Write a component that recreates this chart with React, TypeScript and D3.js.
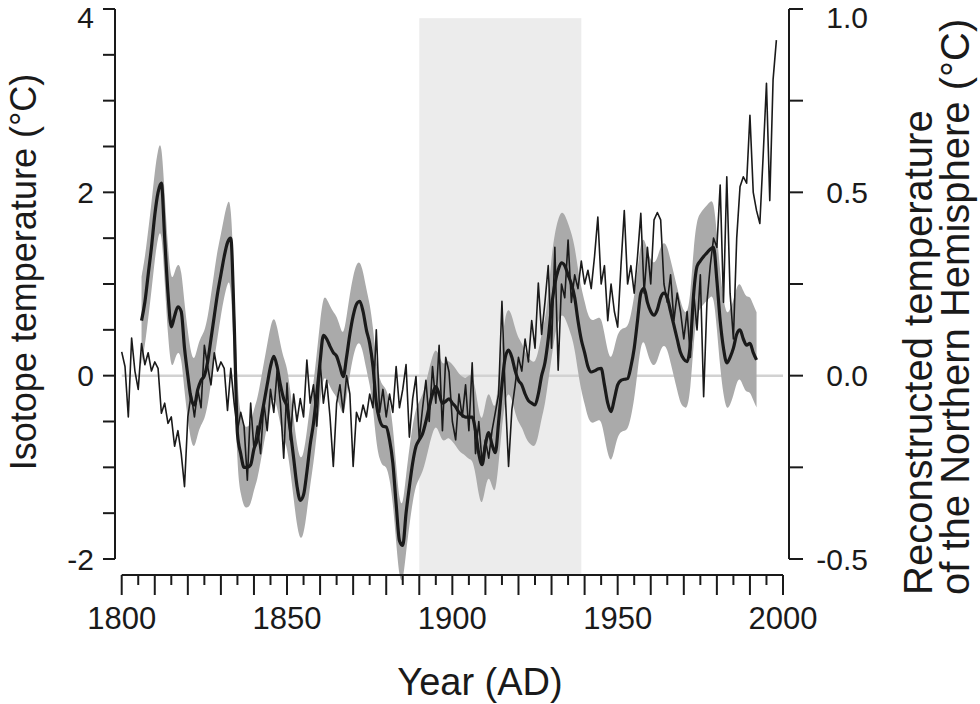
import React from 'react';
import * as d3 from 'd3';

// ---------- data ----------
const isoStartYear = 1800;
// Isotope temperature (°C), left axis, annual 1800-1998
const isotopeTemp = [
  0.26, 0.10, -0.45, 0.41, 0.05, -0.15, 0.35, 0.12, 0.25, 0.05,
  0.15, 0.08, -0.41, -0.30, -0.52, -0.45, -0.77, -0.60, -0.85, -1.21,
  -0.45, -0.20, -0.45, -0.15, -0.35, 0.33, 0.10, -0.10, 0.25, 0.05,
  0.15, 0.08, -0.38, 0.08, -0.30, -0.60, -0.40, -0.55, -1.14, -0.30,
  -0.80, -0.55, -0.85, -0.30, -0.60, -0.15, -0.40, 0.05, -0.30, -0.90,
  -0.08, -0.70, -0.20, -0.50, -0.25, -0.45, 0.17, -0.30, -0.10, -0.55,
  0.15, -0.30, -0.05, -0.45, -0.99, -0.30, -0.10, -0.40, 0.00, -0.20,
  -0.99, -0.40, -0.50, -0.32, -0.45, -0.20, -0.35, 0.50, -0.40, -0.15,
  -0.45, -0.20, -0.40, 0.10, -0.35, -0.15, 0.12, -0.67, -0.25, -0.01,
  -0.70, -0.35, -0.05, -0.50, 0.10, -0.30, 0.33, -0.60, 0.20, 0.04,
  -0.50, -0.70, -0.20, -0.45, -0.10, -0.60, 0.14, -0.85, -0.50, -0.95,
  -0.70, -0.90, -0.60, -0.40, -0.20, 0.81, -0.20, -0.99, -0.37, -0.10,
  0.20, 0.05, 0.40, 0.15, 0.60, 0.30, 1.01, 0.45, 0.80, 1.20,
  0.30, 1.40, 0.06, 1.00, 0.85, 1.48, 0.80, 1.10, 0.95, 1.25,
  1.00, 1.15, 0.95, 1.30, 1.73, 1.00, 1.20, 0.60, 1.00, 0.70,
  0.53, 1.20, 1.80, 1.00, 1.20, 0.90, 1.30, 1.77, 0.90, 1.40,
  1.00, 1.70, 1.78, 1.70, 1.00, 0.80, 1.10, 0.60, 0.90, 0.70,
  0.40, 0.70, 0.20, 0.90, 0.50, 1.10, -0.23, 0.80, 1.20, 1.50,
  1.40, 2.08, 0.80, 2.17, 0.90, 0.40, 1.50, 2.06, 2.17, 2.10,
  2.84, 2.00, 1.80, 1.66, 2.40, 3.19, 1.91, 3.23, 3.66,
];

const nhStartYear = 1806;
// Reconstructed NH temperature (°C), right axis, smoothed, 1806-1992
const nhSmooth = [
  0.150, 0.200, 0.275, 0.350,
  0.438, 0.500, 0.525, 0.375, 0.225, 0.133, 0.163, 0.188, 0.175, 0.075,
  0.000, -0.063, -0.080, -0.038, -0.013, 0.000, 0.038, 0.100, 0.163, 0.225,
  0.275, 0.325, 0.363, 0.375, 0.150, -0.158, -0.213, -0.250, -0.250, -0.243,
  -0.200, -0.175, -0.125, -0.075, -0.025, 0.025, 0.053, 0.025, -0.025, -0.063,
  -0.085, -0.150, -0.225, -0.300, -0.340, -0.325, -0.263, -0.188, -0.130, -0.050,
  0.038, 0.110, 0.100, 0.080, 0.063, 0.053, 0.025, -0.003, 0.050, 0.113,
  0.163, 0.195, 0.203, 0.175, 0.125, 0.088, 0.025, -0.075, -0.120, -0.138,
  -0.140, -0.175, -0.238, -0.350, -0.450, -0.463, -0.375, -0.303, -0.238, -0.193,
  -0.175, -0.158, -0.125, -0.085, -0.050, -0.030, -0.050, -0.075, -0.070, -0.063,
  -0.075, -0.085, -0.100, -0.108, -0.113, -0.113, -0.113, -0.150, -0.213, -0.243,
  -0.188, -0.155, -0.188, -0.210, -0.125, -0.025, 0.050, 0.070, 0.050, 0.013,
  -0.013, -0.025, -0.050, -0.068, -0.075, -0.080, -0.050, 0.000, 0.035, 0.100,
  0.188, 0.250, 0.288, 0.308, 0.300, 0.275, 0.250, 0.213, 0.150, 0.098,
  0.063, 0.025, 0.010, 0.013, 0.018, 0.020, -0.025, -0.075, -0.098, -0.063,
  -0.025, -0.013, -0.010, -0.008, 0.025, 0.075, 0.150, 0.225, 0.238, 0.200,
  0.175, 0.165, 0.180, 0.213, 0.225, 0.213, 0.175, 0.138, 0.100, 0.063,
  0.045, 0.038, 0.088, 0.225, 0.298, 0.313, 0.325, 0.335, 0.345, 0.350,
  0.260, 0.150, 0.075, 0.035, 0.050, 0.075, 0.113, 0.125, 0.100, 0.083,
  0.088, 0.063, 0.043,
];
// half-width of the grey uncertainty band (°C, right axis), from the given year on
const nhErrFromYear = [1806, 1830, 1880, 1905, 1930, 1970];
const nhErr = [0.12, 0.11, 0.105, 0.115, 0.14, 0.13];

const shadeYears = [1890, 1939];
const xLabelYears = [1800, 1850, 1900, 1950, 2000];
const leftLabels = [-2, 0, 2, 4];
const rightLabels = [-0.5, 0.0, 0.5, 1.0];

// ---------- layout ----------
const W = 980, H = 704;
const X0 = 121.7, X1 = 783;
const YT = 9, YB = 559;
const AXIS_Y = 575;
const LEFT_X = 115, RIGHT_X = 789;
const FONT = "'Liberation Sans', Arial, Helvetica, sans-serif";
const INK = '#1a1a1a';

export default function App() {
  const x = d3.scaleLinear().domain([1800, 2000]).range([X0, X1]);
  const yL = d3.scaleLinear().domain([-2, 4]).range([YB, YT]);
  const yR = d3.scaleLinear().domain([-0.5, 1.0]).range([YB, YT]);

  const iso = isotopeTemp.map((v, i) => ({ year: isoStartYear + i, v }));
  const errFor = (yr: number) => {
    let e = nhErr[0];
    nhErrFromYear.forEach((y0, k) => { if (yr >= y0) e = nhErr[k]; });
    return e;
  };
  const nh = nhSmooth.map((v, i) => {
    const year = nhStartYear + i;
    return { year, v, e: errFor(year) };
  });

  const isoLine = d3.line<any>().x(d => x(d.year)).y(d => yL(d.v));
  const nhLine = d3.line<any>().x(d => x(d.year)).y(d => yR(d.v)).curve(d3.curveMonotoneX);
  const nhArea = d3.area<any>()
    .x(d => x(d.year))
    .y0(d => yR(d.v - d.e))
    .y1(d => yR(d.v + d.e))
    .curve(d3.curveBasis);

  const leftTicks = d3.range(-2, 4.01, 0.5);
  const rightTicks = d3.range(-0.5, 1.01, 0.25);
  const xMinor = d3.range(1805, 2000, 10);
  const xMajor = d3.range(1800, 2001, 10);

  // keep the topmost tick labels inside the picture
  const labelBaseline = (py: number) => Math.max(py + 10.5, 28);

  return (
    <svg width={W} height={H} style={{ position: 'absolute', left: 0, top: 0, background: '#fff' }}
      fontFamily={FONT}>
      <rect x={0} y={0} width={W} height={H} fill="#fff" />
      {/* shaded interval */}
      <rect x={x(shadeYears[0])} y={yL(3.9)} width={x(shadeYears[1]) - x(shadeYears[0])}
        height={AXIS_Y - yL(3.9)} fill="#ececec" />
      {/* zero line */}
      <line x1={x(1800)} x2={x(2000)} y1={yL(0)} y2={yL(0)} stroke="#d2d2d2" strokeWidth={2.5} />
      {/* uncertainty band */}
      <path d={nhArea(nh) || ''} fill="#aaaaaa" stroke="none" />
      {/* isotope annual */}
      <path d={isoLine(iso) || ''} fill="none" stroke={INK} strokeWidth={1.6} strokeLinejoin="round" />
      {/* NH smoothed */}
      <path d={nhLine(nh) || ''} fill="none" stroke={INK} strokeWidth={3.2} strokeLinejoin="round" />

      {/* left axis */}
      <line x1={LEFT_X} x2={LEFT_X} y1={YT} y2={YB} stroke={INK} strokeWidth={2} />
      {leftTicks.map(t => (
        <line key={'lt' + t} x1={LEFT_X - 12} x2={LEFT_X} y1={yL(t)} y2={yL(t)} stroke={INK} strokeWidth={2} />
      ))}
      {leftLabels.map(t => (
        <text key={'ll' + t} x={94} y={labelBaseline(yL(t))} textAnchor="end" fontSize={30} fill={INK}>{t}</text>
      ))}
      <text transform={`translate(36,272) rotate(-90)`} textAnchor="middle" fontSize={36} fill={INK}>
        Isotope temperature (°C)
      </text>

      {/* right axis */}
      <line x1={RIGHT_X} x2={RIGHT_X} y1={YT} y2={YB} stroke={INK} strokeWidth={2} />
      {rightTicks.map(t => (
        <line key={'rt' + t} x1={RIGHT_X} x2={RIGHT_X + 14} y1={yR(t)} y2={yR(t)} stroke={INK} strokeWidth={2} />
      ))}
      {rightLabels.map(t => (
        <text key={'rl' + t} x={868} y={labelBaseline(yR(t))} textAnchor="end" fontSize={30} fill={INK}>{t.toFixed(1)}</text>
      ))}
      <text transform={`translate(932,595) rotate(-90)`} textAnchor="start" fontSize={40} fill={INK}>
        Reconstructed temperature
      </text>
      <text transform={`translate(969,595) rotate(-90)`} textAnchor="start" fontSize={40} fill={INK}>
        of the Northern Hemisphere (°C)
      </text>

      {/* bottom axis */}
      <line x1={X0} x2={X1} y1={AXIS_Y} y2={AXIS_Y} stroke={INK} strokeWidth={2} />
      {xMajor.map(t => (
        <line key={'xM' + t} x1={x(t)} x2={x(t)} y1={AXIS_Y} y2={AXIS_Y + 20} stroke={INK} strokeWidth={2} />
      ))}
      {xMinor.map(t => (
        <line key={'xm' + t} x1={x(t)} x2={x(t)} y1={AXIS_Y} y2={AXIS_Y + 10} stroke={INK} strokeWidth={2} />
      ))}
      {xLabelYears.map(t => (
        <text key={'xl' + t} x={x(t)} y={629} textAnchor="middle" fontSize={31} fill={INK}>{t}</text>
      ))}
      <text x={480} y={695} textAnchor="middle" fontSize={38} fill={INK}>Year (AD)</text>
    </svg>
  );
}
